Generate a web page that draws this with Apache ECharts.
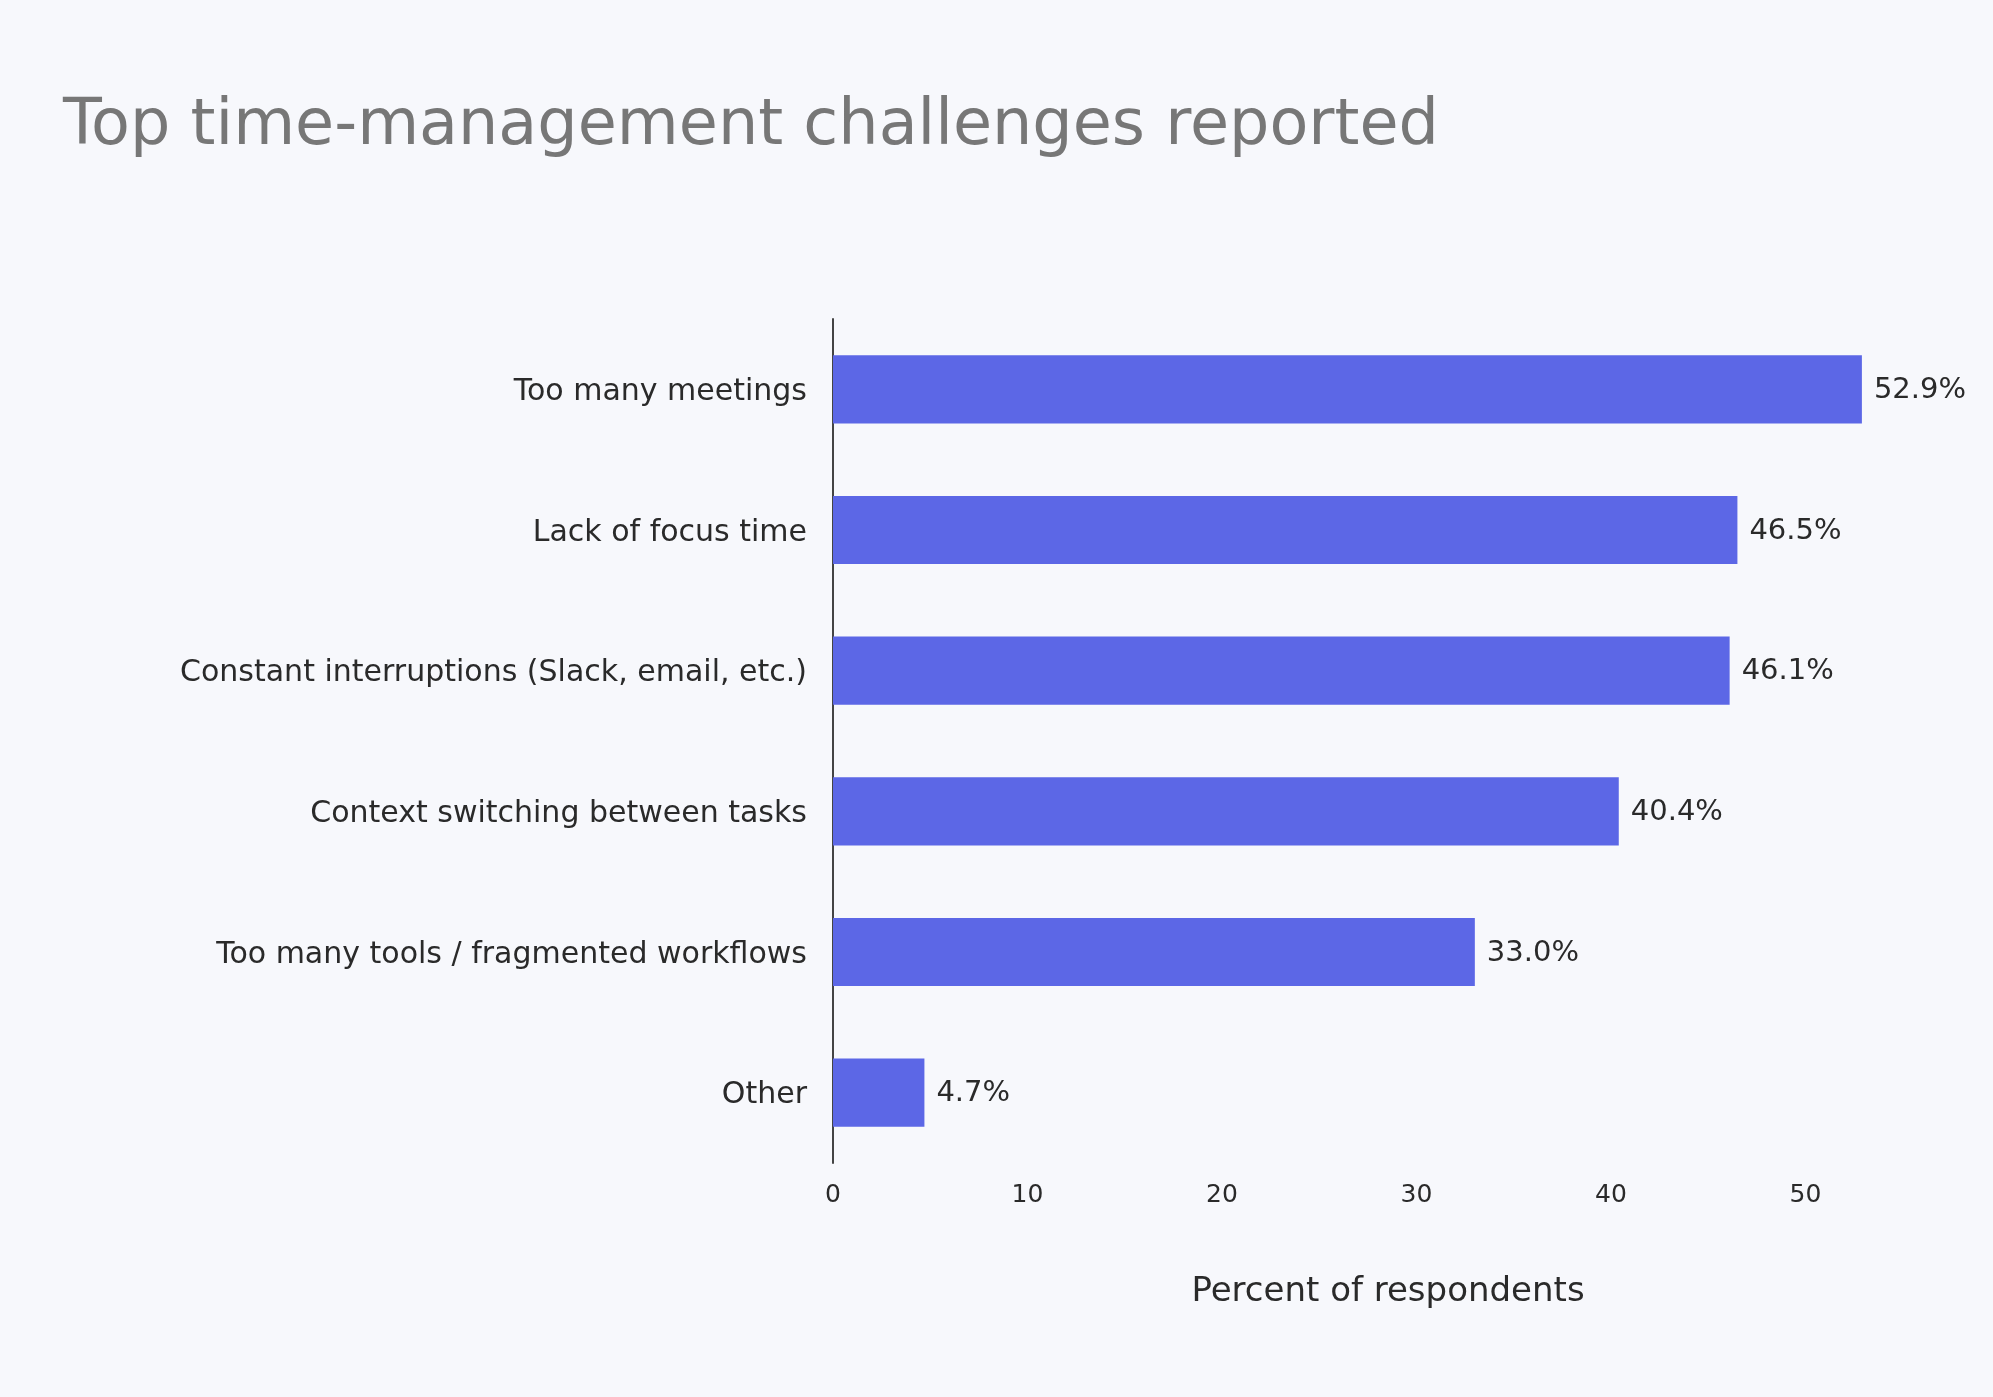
<!DOCTYPE html>
<html>
<head>
<meta charset="utf-8">
<script src="https://cdn.jsdelivr.net/npm/echarts@6/dist/echarts.min.js"></script>
<style>
  html, body { margin: 0; padding: 0; background: #f7f8fc; }
  #chart { width: 1993px; height: 1397px; }
</style>
</head>
<body>
<div id="chart"></div>
<script>
const categories = [
  "Too many meetings",
  "Lack of focus time",
  "Constant interruptions (Slack, email, etc.)",
  "Context switching between tasks",
  "Too many tools / fragmented workflows",
  "Other"
];
const percentValues = [52.9, 46.5, 46.1, 40.4, 33.0, 4.7];
const xTickValues = [0, 10, 20, 30, 40, 50];

const FONT = "DejaVu Sans";
const chart = echarts.init(document.getElementById('chart'), null, { renderer: 'canvas' });
chart.setOption({
  backgroundColor: '#f7f8fc',
  animation: false,
  title: {
    text: 'Top time-management challenges reported',
    left: 58,
    top: 90,
    textStyle: { fontFamily: FONT, fontSize: 63.6, fontWeight: 'normal', color: '#777777' }
  },
  grid: { left: 833, top: 319, width: 1110, height: 844, containLabel: false },
  xAxis: {
    type: 'value',
    min: 0,
    max: 57.07,
    interval: 10,
    name: 'Percent of respondents',
    nameLocation: 'middle',
    nameGap: 112,
    nameTextStyle: { fontFamily: FONT, fontSize: 34, color: '#2a2a2a' },
    axisLine: { show: false },
    axisTick: { show: false },
    splitLine: { show: false },
    axisLabel: {
      margin: 20,
      fontFamily: FONT,
      fontSize: 25,
      color: '#2a2a2a',
      formatter: function (v) { return xTickValues.indexOf(v) >= 0 ? String(v) : ''; }
    }
  },
  yAxis: {
    type: 'category',
    data: categories,
    inverse: true,
    axisLine: { show: true, lineStyle: { color: '#444444', width: 2 } },
    axisTick: { show: false },
    splitLine: { show: false },
    axisLabel: {
      margin: 26,
      fontFamily: FONT,
      fontSize: 30,
      color: '#2a2a2a',
      formatter: function (v) { return '{l|' + v + '}'; },
      rich: { l: { fontFamily: FONT, fontSize: 30, color: '#2a2a2a', padding: [6, 0, 0, 0] } }
    }
  },
  series: [{
    type: 'bar',
    data: percentValues,
    barCategoryGap: '51.5%',
    itemStyle: { color: '#5c67e6' },
    label: {
      show: true,
      position: 'right',
      distance: 12,
      offset: [0, 1],
      fontFamily: FONT,
      fontSize: 29,
      color: '#2a2a2a',
      formatter: function (p) { return p.value.toFixed(1) + '%'; }
    }
  }]
});
</script>
</body>
</html>
